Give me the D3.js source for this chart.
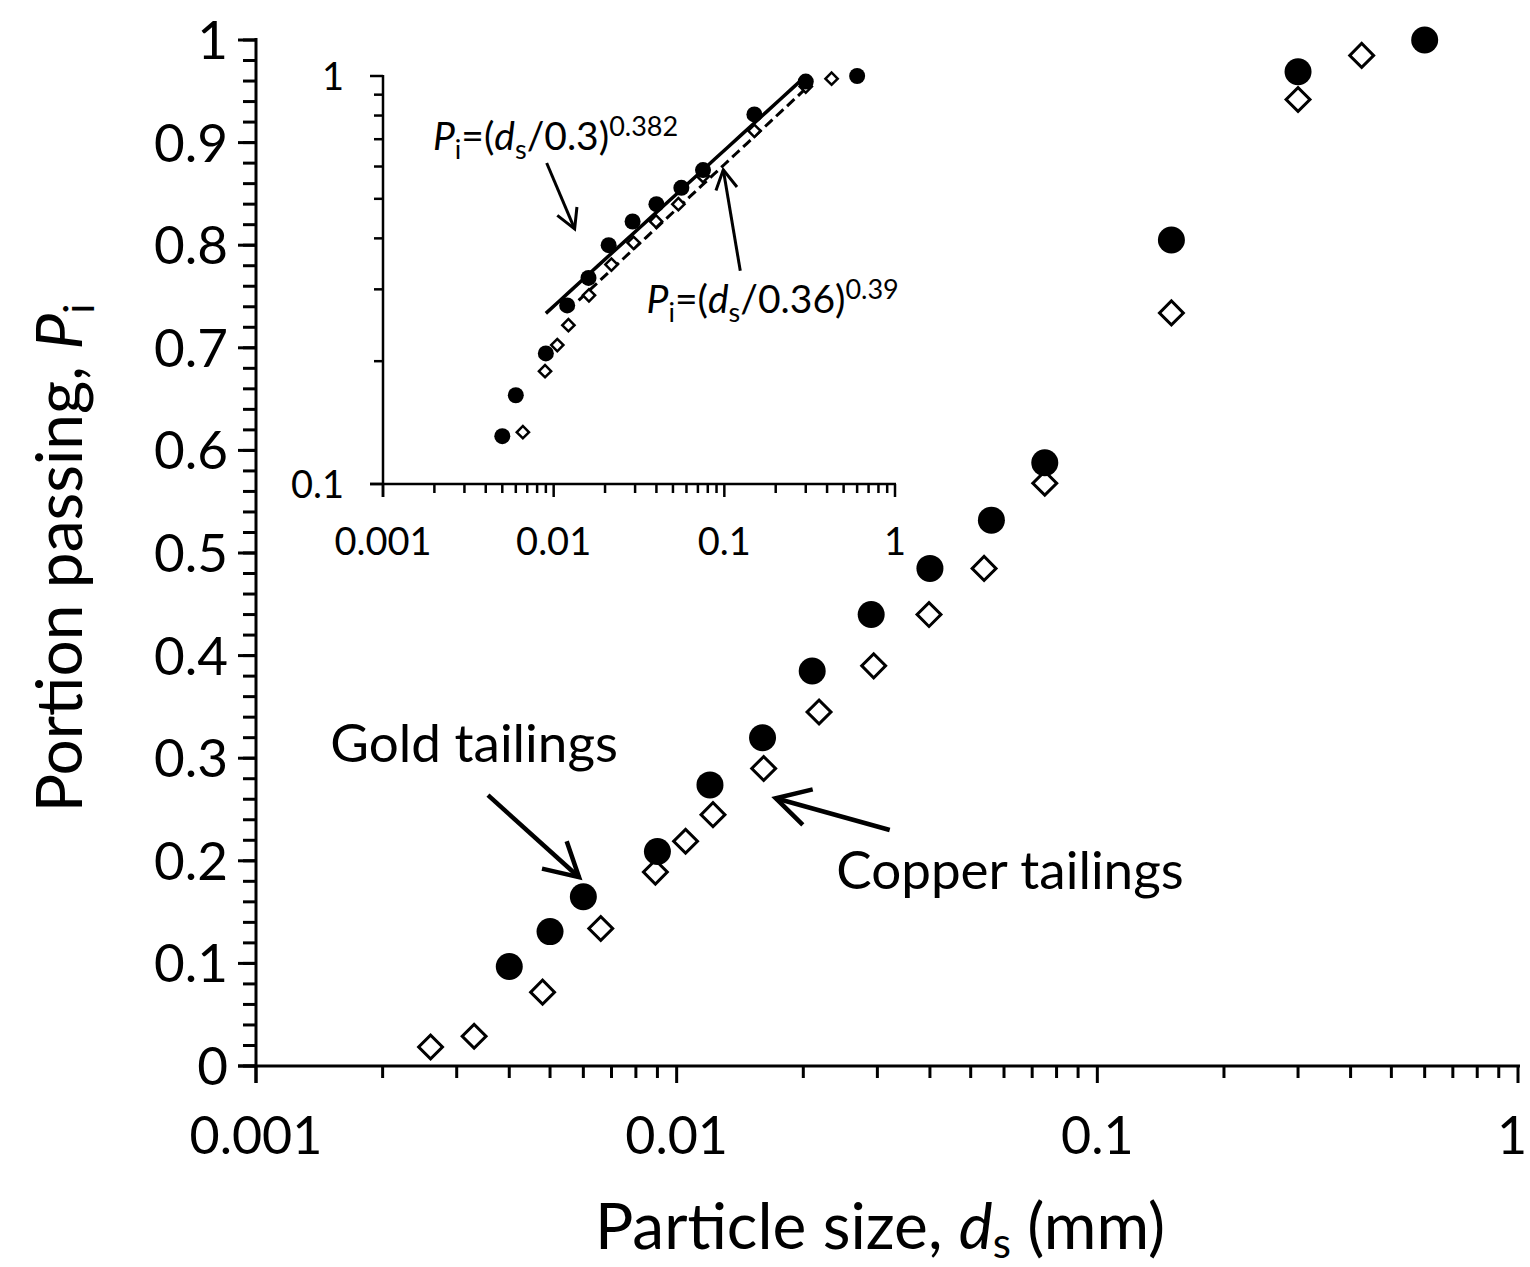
<!DOCTYPE html>
<html>
<head>
<meta charset="utf-8">
<script src="https://cdn.jsdelivr.net/npm/d3@7"></script>
<style>
  body { margin: 0; background: #fff; }
  svg { display: block; font-family: Lato, "Open Sans", sans-serif; }
</style>
</head>
<body>
<svg id="chart" width="1530" height="1267"></svg>
<script>
// gold tailings (filled circles)
var goldSize = [0.004, 0.005, 0.006, 0.009, 0.012, 0.016, 0.021, 0.029, 0.040, 0.056, 0.075, 0.15, 0.30, 0.60];
var goldPass = [0.097, 0.131, 0.165, 0.209, 0.274, 0.320, 0.385, 0.440, 0.485, 0.532, 0.588, 0.805, 0.969, 1.0];

// copper tailings (open diamonds)
var copperSize = [0.0026, 0.0033, 0.0048, 0.0066, 0.0089, 0.0105, 0.0122, 0.0161, 0.0218, 0.0294, 0.0398, 0.0538, 0.075, 0.15, 0.30, 0.425];
var copperPass = [0.0185, 0.029, 0.072, 0.134, 0.189, 0.219, 0.245, 0.290, 0.345, 0.390, 0.440, 0.485, 0.568, 0.734, 0.942, 0.985];

var xTicks = [0.001, 0.01, 0.1, 1];
var xTickLabels = ["0.001", "0.01", "0.1", "1"];
var yTicks = [0, 0.1, 0.2, 0.3, 0.4, 0.5, 0.6, 0.7, 0.8, 0.9, 1];
var yTickLabels = ["0", "0.1", "0.2", "0.3", "0.4", "0.5", "0.6", "0.7", "0.8", "0.9", "1"];
var insetYTicks = [0.1, 1];
var insetYTickLabels = ["0.1", "1"];

// power-law fits shown in the inset: P = (d/d0)^n
var goldFit = {d0: 0.3, n: 0.382, from: 0.009, to: 0.3};
var copperFit = {d0: 0.36, n: 0.39, from: 0.014, to: 0.29};

var svg = d3.select("#chart");

var x = d3.scaleLog().domain([0.001, 1]).range([256, 1518]);
var y = d3.scaleLinear().domain([0, 1]).range([1066, 40]);

var xi = d3.scaleLog().domain([0.001, 1]).range([383, 895]);
var yi = d3.scaleLog().domain([0.1, 1]).range([484, 76]);

function minorLog(lo, hi) {
    var out = [];
    for (var e = lo; e < hi; e *= 10)
        for (var k = 2; k <= 9; k++) out.push(e * k);
    return out;
}

// ---------- main axes ----------
var gx = svg.append("g").attr("transform", "translate(0,1066)");
gx.append("line").attr("x1", 238).attr("x2", 1520).attr("stroke", "#000").attr("stroke-width", 3);
gx.selectAll(".mj").data(xTicks).enter().append("line")
    .attr("x1", d => x(d)).attr("x2", d => x(d)).attr("y1", 0).attr("y2", 17)
    .attr("stroke", "#000").attr("stroke-width", 3);
gx.selectAll(".mn").data(minorLog(0.001, 1)).enter().append("line")
    .attr("x1", d => x(d)).attr("x2", d => x(d)).attr("y1", 0).attr("y2", 12)
    .attr("stroke", "#000").attr("stroke-width", 3);
gx.selectAll("text").data(xTicks).enter().append("text")
    .attr("x", d => Math.min(x(d), 1512)).attr("y", 88)
    .attr("text-anchor", "middle").attr("font-size", 52)
    .text((d, i) => xTickLabels[i]);

var gy = svg.append("g").attr("transform", "translate(256,0)");
gy.append("line").attr("y1", 38).attr("y2", 1083).attr("stroke", "#000").attr("stroke-width", 3);
gy.selectAll(".mn").data(d3.range(0, 1.001, 0.02)).enter().append("line")
    .attr("x1", -13).attr("x2", 0).attr("y1", d => y(d)).attr("y2", d => y(d))
    .attr("stroke", "#000").attr("stroke-width", 3);
gy.selectAll(".mj").data(yTicks).enter().append("line")
    .attr("x1", -18).attr("x2", 0).attr("y1", d => y(d)).attr("y2", d => y(d))
    .attr("stroke", "#000").attr("stroke-width", 3);
gy.selectAll("text").data(yTicks).enter().append("text")
    .attr("x", -28).attr("y", d => y(d)).attr("dy", "0.36em")
    .attr("text-anchor", "end").attr("font-size", 53)
    .text((d, i) => yTickLabels[i]);

// axis titles
var xt = svg.append("text").attr("x", 880).attr("y", 1249)
    .attr("text-anchor", "middle").attr("font-size", 64);
xt.append("tspan").text("Particle size, ");
xt.append("tspan").attr("font-style", "italic").text("d");
xt.append("tspan").attr("font-size", 42).attr("dy", 9).text("s");
xt.append("tspan").attr("dy", -9).text(" (mm)");

var yt = svg.append("text").attr("transform", "translate(82,558) rotate(-90)")
    .attr("text-anchor", "middle").attr("font-size", 64);
yt.append("tspan").text("Portion passing, ");
yt.append("tspan").attr("font-style", "italic").text("P");
yt.append("tspan").attr("font-size", 42).attr("dy", 12).text("i");

// ---------- main markers ----------
var diamond = d3.symbol().type(d3.symbolSquare).size(285);

svg.append("g").selectAll("path").data(copperSize).enter().append("path")
    .attr("d", diamond)
    .attr("transform", (d, i) => "translate(" + x(d) + "," + y(copperPass[i]) + ") rotate(45)")
    .attr("fill", "#fff").attr("stroke", "#000").attr("stroke-width", 3);

svg.append("g").selectAll("circle").data(goldSize).enter().append("circle")
    .attr("cx", d => x(d)).attr("cy", (d, i) => y(goldPass[i])).attr("r", 13.5)
    .attr("fill", "#000");

// ---------- arrows ----------
function arrow(g, sx, sy, ex, ey, head, w) {
    var ang = Math.atan2(sy - ey, sx - ex);
    var a = 29 * Math.PI / 180;
    g.append("line").attr("x1", sx).attr("y1", sy).attr("x2", ex).attr("y2", ey)
        .attr("stroke", "#000").attr("stroke-width", w);
    g.append("path")
        .attr("d", "M" + (ex + head * Math.cos(ang + a)) + "," + (ey + head * Math.sin(ang + a)) +
            "L" + ex + "," + ey +
            "L" + (ex + head * Math.cos(ang - a)) + "," + (ey + head * Math.sin(ang - a)))
        .attr("fill", "none").attr("stroke", "#000").attr("stroke-width", w)
        .attr("stroke-linejoin", "miter");
}

var ann = svg.append("g");
arrow(ann, x(0.00356), y(0.264), x(0.00586), y(0.184), 38, 4.5);
arrow(ann, x(0.0321), y(0.230), x(0.0172), y(0.261), 38, 4.5);
ann.append("text").attr("x", x(0.0033)).attr("y", y(0.296))
    .attr("text-anchor", "middle").attr("font-size", 53).text("Gold tailings");
ann.append("text").attr("x", x(0.062)).attr("y", y(0.173))
    .attr("text-anchor", "middle").attr("font-size", 53).text("Copper tailings");

// ---------- inset ----------
var inset = svg.append("g");
inset.append("rect").attr("x", 300).attr("y", 60).attr("width", 610).attr("height", 510).attr("fill", "#fff");

inset.append("line").attr("x1", 370).attr("x2", 896).attr("y1", 484).attr("y2", 484)
    .attr("stroke", "#000").attr("stroke-width", 2.5);
inset.append("line").attr("x1", 383).attr("x2", 383).attr("y1", 75).attr("y2", 497)
    .attr("stroke", "#000").attr("stroke-width", 2.5);
inset.selectAll(".ixmj").data(xTicks).enter().append("line")
    .attr("x1", d => xi(d)).attr("x2", d => xi(d)).attr("y1", 484).attr("y2", 497)
    .attr("stroke", "#000").attr("stroke-width", 2.5);
inset.selectAll(".ixmn").data(minorLog(0.001, 1)).enter().append("line")
    .attr("x1", d => xi(d)).attr("x2", d => xi(d)).attr("y1", 484).attr("y2", 493)
    .attr("stroke", "#000").attr("stroke-width", 2.5);
inset.selectAll(".iymj").data(insetYTicks).enter().append("line")
    .attr("x1", 370).attr("x2", 383).attr("y1", d => yi(d)).attr("y2", d => yi(d))
    .attr("stroke", "#000").attr("stroke-width", 2.5);
inset.selectAll(".iymn").data(minorLog(0.1, 1)).enter().append("line")
    .attr("x1", 374).attr("x2", 383).attr("y1", d => yi(d)).attr("y2", d => yi(d))
    .attr("stroke", "#000").attr("stroke-width", 2.5);
inset.selectAll(".ixl").data(xTicks).enter().append("text")
    .attr("x", d => xi(d)).attr("y", 555)
    .attr("text-anchor", "middle").attr("font-size", 38)
    .text((d, i) => xTickLabels[i]);
inset.selectAll(".iyl").data(insetYTicks).enter().append("text")
    .attr("x", 344).attr("y", d => yi(d)).attr("dy", "0.36em")
    .attr("text-anchor", "end").attr("font-size", 38)
    .text((d, i) => insetYTickLabels[i]);

// fit lines
function fitLine(f) {
    return d3.line()(d3.range(0, 21).map(function (k) {
        var d = f.from * Math.pow(f.to / f.from, k / 20);
        return [xi(d), yi(Math.pow(d / f.d0, f.n))];
    }));
}
inset.append("path").attr("d", fitLine(goldFit))
    .attr("fill", "none").attr("stroke", "#000").attr("stroke-width", 3.5);
inset.append("path").attr("d", fitLine(copperFit))
    .attr("fill", "none").attr("stroke", "#000").attr("stroke-width", 3)
    .attr("stroke-dasharray", "10,5");

var smallDiamond = d3.symbol().type(d3.symbolSquare).size(75);
var cIdx = d3.range(copperSize.length).filter(i => copperPass[i] >= 0.1);
var gIdx = d3.range(goldSize.length).filter(i => goldPass[i] >= 0.1);

inset.append("g").selectAll("path").data(cIdx).enter().append("path")
    .attr("d", smallDiamond)
    .attr("transform", i => "translate(" + xi(copperSize[i]) + "," + yi(copperPass[i]) + ") rotate(45)")
    .attr("fill", "#fff").attr("stroke", "#000").attr("stroke-width", 2.5);
inset.append("g").selectAll("circle").data(gIdx).enter().append("circle")
    .attr("cx", i => xi(goldSize[i])).attr("cy", i => yi(goldPass[i])).attr("r", 8)
    .attr("fill", "#000");

arrow(inset, xi(0.0091), yi(0.612), xi(0.01327), yi(0.422), 22, 3);
arrow(inset, xi(0.124), yi(0.333), xi(0.0986), yi(0.589), 22, 3);

function fitLabel(px, py, d0, n) {
    var t = inset.append("text").attr("x", px).attr("y", py).attr("font-size", 39);
    t.append("tspan").attr("font-style", "italic").text("P");
    t.append("tspan").attr("font-size", 27).attr("dy", 9).text("i");
    t.append("tspan").attr("dy", -9).text("=(");
    t.append("tspan").attr("font-style", "italic").text("d");
    t.append("tspan").attr("font-size", 27).attr("dy", 9).text("s");
    t.append("tspan").attr("dy", -9).text("/" + d0 + ")");
    t.append("tspan").attr("font-size", 27).attr("dy", -14).text(n);
}
fitLabel(xi(0.00196), yi(0.659), goldFit.d0, goldFit.n);
fitLabel(xi(0.035), yi(0.263), copperFit.d0, copperFit.n);
</script>
</body>
</html>
